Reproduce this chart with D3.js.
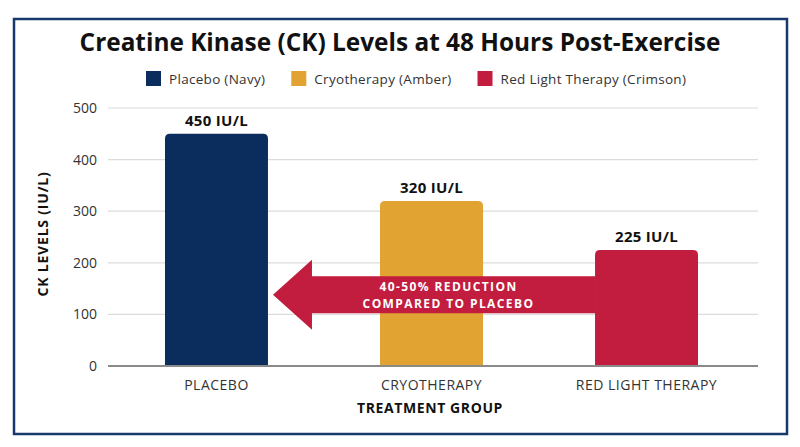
<!DOCTYPE html>
<html>
<head>
<meta charset="utf-8">
<script src="https://cdn.jsdelivr.net/npm/d3@7"></script>
<style>
  body { margin: 0; background: #fff; }
  text { font-family: "Open Sans", sans-serif; }
</style>
</head>
<body>
<div id="container"></div>
<script>
// chart data
const groups = ["PLACEBO", "CRYOTHERAPY", "RED LIGHT THERAPY"];
const values = [450, 320, 225];
const legendLabels = ["Placebo (Navy)", "Cryotherapy (Amber)", "Red Light Therapy (Crimson)"];
const barColors = ["#0b2d5e", "#e1a332", "#c21c3e"];
const yTicks = [0, 100, 200, 300, 400, 500];
const arrowLines = ["40-50% REDUCTION", "COMPARED TO PLACEBO"];
const arrowLevel = 138;

const W = 800, H = 447;
const margin = {top: 108, right: 45, bottom: 81, left: 108};
const width = W - margin.left - margin.right;
const height = H - margin.top - margin.bottom;

const svg = d3.select("#container")
  .append("svg")
  .attr("width", W)
  .attr("height", H);

// frame
svg.append("rect")
  .attr("x", 14).attr("y", 19)
  .attr("width", 773).attr("height", 415)
  .attr("fill", "#fff")
  .attr("stroke", "#17386a")
  .attr("stroke-width", 2.5);

svg.append("text")
  .attr("x", 400).attr("y", 51)
  .attr("text-anchor", "middle")
  .style("font-size", "24.4px")
  .style("font-weight", "700")
  .style("fill", "#111")
  .text("Creatine Kinase (CK) Levels at 48 Hours Post-Exercise");

// legend
const legend = svg.append("g").attr("transform", "translate(146,71)");
let lx = 0;
legendLabels.forEach((lab, i) => {
  const item = legend.append("g").attr("transform", `translate(${lx},0)`);
  item.append("rect")
    .attr("width", 15).attr("height", 15)
    .attr("fill", barColors[i]);
  const t = item.append("text")
    .attr("x", 23).attr("y", 12.5)
    .style("font-size", "13.5px")
    .style("letter-spacing", "0.3px")
    .style("fill", "#333")
    .text(lab);
  lx += 23 + t.node().getComputedTextLength() + 26;
});

const g = svg.append("g")
  .attr("transform", `translate(${margin.left},${margin.top})`);

const x = d3.scaleBand()
  .domain(groups)
  .range([0, width])
  .paddingInner(0.521)
  .paddingOuter(0.265);

const y = d3.scaleLinear()
  .domain([0, 500])
  .range([height, 0]);

// grid
g.append("g")
  .selectAll("line")
  .data(yTicks.filter(d => d > 0))
  .join("line")
  .attr("x1", 0).attr("x2", width + 3)
  .attr("y1", d => y(d)).attr("y2", d => y(d))
  .attr("stroke", "#dcdcdc")
  .attr("stroke-width", 1.2);

const yAxis = g.append("g")
  .call(d3.axisLeft(y).tickValues(yTicks).tickSize(0).tickPadding(11));
yAxis.select(".domain").remove();
yAxis.selectAll("text")
  .style("font-size", "14px")
  .style("fill", "#333")
  .style("font-family", "'Open Sans', sans-serif");

// bars with rounded tops
const r = 5;
g.selectAll(".bar")
  .data(groups)
  .join("path")
  .attr("class", "bar")
  .attr("fill", (d, i) => barColors[i])
  .attr("d", (d, i) => {
    const x0 = x(d), x1 = x(d) + x.bandwidth();
    const y0 = y(values[i]), yb = y(0);
    return `M${x0},${yb}V${y0 + r}Q${x0},${y0} ${x0 + r},${y0}H${x1 - r}Q${x1},${y0} ${x1},${y0 + r}V${yb}Z`;
  });

g.selectAll(".val")
  .data(groups)
  .join("text")
  .attr("class", "val")
  .attr("x", d => x(d) + x.bandwidth() / 2)
  .attr("y", (d, i) => y(values[i]) - 8)
  .attr("text-anchor", "middle")
  .style("font-size", "15px")
  .style("font-weight", "700")
  .style("letter-spacing", "0.3px")
  .style("fill", "#111")
  .text((d, i) => values[i] + " IU/L");

// baseline
g.append("line")
  .attr("x1", 0).attr("x2", width + 3)
  .attr("y1", y(0)).attr("y2", y(0))
  .attr("stroke", "#8a8a8a")
  .attr("stroke-width", 2);

const xAxis = g.append("g")
  .attr("transform", `translate(0,${height})`)
  .call(d3.axisBottom(x).tickSize(0).tickPadding(14));
xAxis.select(".domain").remove();
xAxis.selectAll("text")
  .style("font-size", "14px")
  .style("letter-spacing", "0.5px")
  .style("fill", "#333")
  .style("font-family", "'Open Sans', sans-serif");

// reduction arrow
const tipX = x(groups[0]) + x.bandwidth() + 5;
const tailX = x(groups[2]);
const cy = y(arrowLevel);
const shaftH = 18.5, headH = 35, headL = 39;
g.append("path")
  .attr("fill", "#c21c3e")
  .attr("d", `M${tipX},${cy}L${tipX + headL},${cy - headH}V${cy - shaftH}H${tailX}V${cy + shaftH}H${tipX + headL}V${cy + headH}Z`);

const midX = (tipX + headL + tailX) / 2 - 5;
g.selectAll(".arrowtxt")
  .data(arrowLines)
  .join("text")
  .attr("class", "arrowtxt")
  .attr("x", midX)
  .attr("y", (d, i) => cy - 3.5 + i * 16.5)
  .attr("text-anchor", "middle")
  .style("font-size", "12px")
  .style("font-weight", "700")
  .style("letter-spacing", "1.4px")
  .style("fill", "#fff")
  .text(d => d);

// axis titles
svg.append("text")
  .attr("x", 430).attr("y", 413)
  .attr("text-anchor", "middle")
  .style("font-size", "14px")
  .style("font-weight", "700")
  .style("letter-spacing", "0.6px")
  .style("fill", "#111")
  .text("TREATMENT GROUP");

svg.append("text")
  .attr("transform", "translate(48,234) rotate(-90)")
  .attr("text-anchor", "middle")
  .style("font-size", "14px")
  .style("font-weight", "700")
  .style("letter-spacing", "0.8px")
  .style("fill", "#111")
  .text("CK LEVELS (IU/L)");
</script>
</body>
</html>
